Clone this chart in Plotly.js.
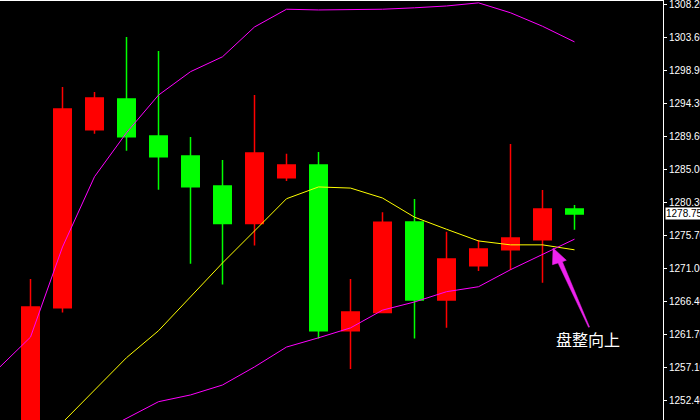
<!DOCTYPE html>
<html>
<head>
<meta charset="utf-8">
<script src="https://cdn.plot.ly/plotly-3.0.1.min.js"></script>
<style>
html,body{margin:0;padding:0;background:#000;}
#chart{width:700px;height:420px;}
</style>
</head>
<body>
<div id="chart"></div>
<script>
// ---- data ----
var candleX = [0,1,2,3,4,5,6,7,8,9,10,11,12,13,14,15,16,17];
var openP  = [1247.0,1265.55,1290.63,1294.95,1289.74,1286.92,1282.70,1277.40,1283.87,1285.65,1262.30,1264.85,1277.62,1266.63,1271.47,1273.72,1275.13,1279.46];
var highP  = [1269.60,1296.65,1295.94,1303.70,1301.72,1289.60,1286.36,1295.50,1287.25,1287.50,1269.60,1279.00,1280.86,1276.26,1275.10,1288.60,1282.13,1280.00];
var lowP   = [1246.0,1264.85,1290.07,1287.67,1282.18,1271.75,1268.80,1274.30,1283.40,1261.20,1256.90,1264.76,1261.20,1262.73,1270.72,1270.86,1269.07,1276.54];
var closeP = [1265.65,1293.55,1295.10,1289.64,1286.83,1282.60,1277.40,1287.35,1285.65,1262.30,1264.94,1277.60,1266.63,1272.40,1273.80,1275.37,1279.46,1278.75];

var upperX = [-1,0,1,2,3,4,5,6,7,8,9,10,11,12,13,14,15,16,17];
var upperBand = [1257.0,1261.4,1274.1,1284.0,1290.2,1295.5,1298.8,1300.9,1305.1,1307.6,1307.5,1307.5,1307.6,1307.8,1308.06,1308.5,1307.1,1305.2,1303.0];

var middleX = [0,1,2,3,4,5,6,7,8,9,10,11,12,13,14,15,16,17];
var middleBand = [1244.8,1249.4,1253.95,1258.5,1262.3,1267.1,1271.85,1276.36,1280.9,1282.56,1282.4,1281.0,1278.3,1276.6,1274.95,1274.4,1274.4,1273.7];

var lowerX = [2,3,4,5,6,7,8,9,10,11,12,13,14,15,16,17];
var lowerBand = [1247.6,1250.0,1252.3,1253.25,1254.65,1257.2,1260.0,1261.3,1262.7,1265.2,1266.35,1267.8,1268.5,1270.9,1273.0,1275.2];

var tickVals = [1308.20,1303.60,1298.90,1294.30,1289.60,1285.00,1280.30,1275.70,1271.00,1266.40,1261.70,1257.10,1252.40];
var tickText = ["1308.20","1303.60","1298.90","1294.30","1289.60","1285.00","1280.30","1275.70","1271.00","1266.40","1261.70","1257.10","1252.40"];

var noteText = "盘整向上";
var lastClose = closeP[closeP.length-1];

var traces = [
  {type:'scatter', mode:'lines', x:upperX, y:upperBand, line:{color:'#FF00FF', width:1}, hoverinfo:'skip', showlegend:false},
  {type:'scatter', mode:'lines', x:middleX, y:middleBand, line:{color:'#FFFF00', width:1}, hoverinfo:'skip', showlegend:false},
  {type:'scatter', mode:'lines', x:lowerX, y:lowerBand, line:{color:'#FF00FF', width:1}, hoverinfo:'skip', showlegend:false},
  {type:'candlestick', x:candleX, open:openP, high:highP, low:lowP, close:closeP,
   increasing:{line:{color:'#FF0000', width:1.5}, fillcolor:'#FF0000'},
   decreasing:{line:{color:'#00FF00', width:1.5}, fillcolor:'#00FF00'},
   whiskerwidth:0, showlegend:false, hoverinfo:'skip'}
];

var layout = {
  width:700, height:420,
  paper_bgcolor:'#000000', plot_bgcolor:'#000000',
  margin:{l:0, r:37, t:1, b:0, pad:0},
  showlegend:false,
  boxgap:0.22,
  xaxis:{range:[-0.953125,19.765625], side:'top', showline:true, linecolor:'#FFFFFF', linewidth:1,
         showticklabels:false, ticks:'', showgrid:false, zeroline:false, fixedrange:true,
         rangeslider:{visible:false}},
  yaxis:{range:[1249.72,1308.76], side:'right', showline:true, linecolor:'#FFFFFF', linewidth:1,
         ticks:'outside', ticklen:3, tickcolor:'#FFFFFF', tickwidth:1,
         tickvals:tickVals, ticktext:tickText, ticklabeloverflow:'allow',
         tickfont:{family:'Liberation Sans, Arial, sans-serif', size:10, color:'#FFFFFF'},
         showgrid:false, zeroline:false, fixedrange:true},
  annotations:[
    {xref:'paper', x:1, xanchor:'left', xshift:2, yref:'y', y:lastClose, yanchor:'middle',
     text:lastClose.toFixed(2), showarrow:false, bgcolor:'#FFFFFF', borderpad:0,
     font:{family:'Liberation Sans, Arial, sans-serif', size:10, color:'#000000'}},
    {xref:'x', x:17.42, yref:'y', y:1261.13, text:noteText, showarrow:false,
     font:{family:'Noto Sans CJK SC, sans-serif', size:16, color:'#FFFFFF'}}
  ],
  shapes:[
    {type:'path', xref:'x', yref:'y', xsizemode:'pixel', ysizemode:'pixel', xanchor:16.33, yanchor:1273.96,
     path:'M0,0 L13.3,-12.3 L9.3,-13.7 L36.5,-79 L35.5,-79.3 L5,-15 L-0.6,-16.7 Z',
     fillcolor:'#EE22EE', line:{color:'#EE22EE', width:0.5}, layer:'above'}
  ]
};

Plotly.newPlot('chart', traces, layout, {displayModeBar:false, staticPlot:true});
</script>
</body>
</html>
